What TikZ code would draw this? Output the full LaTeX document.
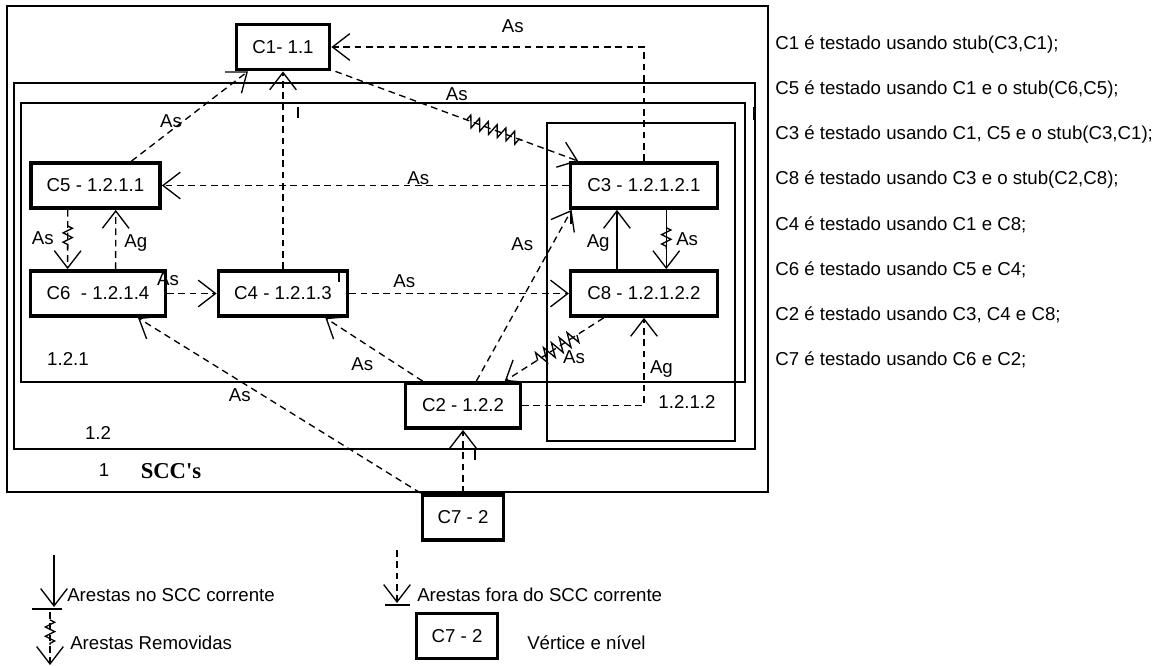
\documentclass[tikz,border=0pt]{standalone}
\usepackage{fontspec}
\setmainfont{Liberation Sans}
\newfontfamily\sccfont{Liberation Serif}
\usetikzlibrary{arrows.meta,positioning,calc,decorations.pathmorphing}

\tikzset{
  vbox/.style={draw, line width=2.6pt, minimum height=34pt, inner sep=0pt},
  frame/.style={line width=1.1pt},
  dentro/.style={line width=1pt, -{Straight Barb[length=13pt,width=20pt]}},
  fora/.style={dentro, dash pattern=on 5pt off 3.5pt},
  lbl/.style={inner sep=1pt},
  removed/.style={line width=1pt, decorate,
    decoration={zigzag, amplitude=#1, segment length=7pt}},
  removed/.default=3.5pt,
  cursor/.style={line width=1.1pt},
  txt/.style={anchor=west, inner sep=0pt}
}

\begin{document}
\begin{tikzpicture}[x=0.75pt, y=-0.75pt, font=\fontsize{14}{16}\selectfont]
  \useasboundingbox (0,0) rectangle (1176,666);

  % SCC frames (levels 1, 1.2, 1.2.1 and 1.2.1.2)
  \draw[frame] (7,6) rectangle (768,492);
  \draw[frame] (14,83) rectangle (755,449);
  \draw[frame] (21,103) rectangle (745,382);
  \draw[frame] (547,123) rectangle (735,441);
  \node[lbl] (n121) at (68,359) {1.2.1};
  \node[lbl] (n12) at (98,433) {1.2};
  \node[lbl] (n1) at (104,470) {1};
  \node[lbl] (n1212) at (687,402) {1.2.1.2};
  \node[lbl, font=\sccfont\bfseries\fontsize{17}{20}\selectfont] (sccs) at (171,471) {SCC's};

  % vertices
  \node[vbox, minimum width=70pt] (c1) at (283,47) {C1- 1.1};
  \node[vbox, minimum width=97pt] (c5) at (95.5,185.5) {C5 - 1.2.1.1};
  \node[vbox, minimum width=101pt] (c6) at (98,293.5) {C6\ \ - 1.2.1.4};
  \node[vbox, minimum width=97pt] (c4) at (283,293.5) {C4 - 1.2.1.3};
  \node[vbox, minimum width=110pt] (c3) at (644,185.5) {C3 - 1.2.1.2.1};
  \node[vbox, minimum width=110pt] (c8) at (644,293.5) {C8 - 1.2.1.2.2};
  \node[vbox, minimum width=86pt] (c2) at (463,405.5) {C2 - 1.2.2};
  \node[vbox, minimum width=61pt] (c7) at (463,517.5) {C7 - 2};

  % edges out of the current SCC
  \draw[fora] (c3.north) |- (c1.east) node[lbl, pos=0.71, above=9pt] {As};
  \draw[fora] ([xshift=3pt]c1.south east) -- ([xshift=7pt]c3.north west)
    coordinate[pos=0.54] (z1a) coordinate[pos=0.77] (z1b)
    node[lbl, pos=0.5, above=10.5pt] {As};
  \draw[fora] (c3.west) -- (c5.east) node[lbl, pos=0.37, above=-1pt] {As};
  \draw[fora] ([xshift=27pt]c5.north) -- ([xshift=10pt]c1.south west)
    node[lbl, pos=0.45, left=0pt] {As};
  \draw[fora] (c4.north) -- (c1.south);
  \draw[fora] ([xshift=29pt]c5.south west) -- ([xshift=29pt]c6.north west)
    coordinate[pos=0.27] (z2a) coordinate[pos=0.66] (z2b)
    node[lbl, pos=0.47, left=9pt] {As};
  \draw[fora] ([xshift=65pt]c6.north west) -- ([xshift=65pt]c5.south west)
    node[lbl, pos=0.44, right=5pt] {Ag};
  \draw[fora] (c6.east) -- (c4.west) node[lbl, pos=0.02, above=4pt] {As};
  \draw[fora] (c4.east) -- (c8.west) node[lbl, pos=0.25, above=3pt] {As};
  \draw[fora] ([xshift=10pt]c2.north) -- ([xshift=2pt]c3.south west)
    node[lbl, pos=0.8, left=13pt] {As};
  \draw[fora] ([xshift=14pt]c2.north west) -- ([xshift=-18pt]c4.south east)
    node[lbl, pos=0.62, below=10pt] {As};
  \draw[fora] ([xshift=26pt]c8.south west) -- ([xshift=-13pt]c2.north east)
    coordinate[pos=0.27] (z3a) coordinate[pos=0.67] (z3b)
    node[lbl, pos=0.3, below=9pt] {As};
  \draw[fora] (c2.east) -| (c8.south) node[lbl, pos=0.71, right=3pt] {Ag};
  \draw[fora] (c7.north west) -- ([xshift=30pt]c6.south)
    node[lbl, pos=0.64, below=4.5pt] {As};
  \draw[fora] (c7.north) -- (c2.south);

  % edges inside the current SCC
  \draw[dentro] ([xshift=73pt]c3.south west) -- ([xshift=73pt]c8.north west)
    coordinate[pos=0.3] (z4a) coordinate[pos=0.66] (z4b)
    node[lbl, pos=0.5, right=6pt] {As};
  \draw[dentro] ([xshift=36pt]c8.north west) -- ([xshift=36pt]c3.south west)
    node[lbl, pos=0.44, left=4pt] {Ag};

  % removed edges
  \draw[removed=4.5pt] (z1a) -- (z1b);
  \draw[removed] (z2a) -- (z2b);
  \draw[removed=5.5pt] (z3a) -- (z3b);
  \draw[removed] (z4a) -- (z4b);

  % stray cursor marks
  \draw[cursor] (298,107) -- (298,118);
  \draw[cursor] (339,270) -- (339,282);
  \draw[cursor] (475,449) -- (475,460);
  \draw[cursor] (571,212) -- (571,224);
  \draw[cursor, line width=2pt] (754,107) -- (754,120);

  % legend
  \coordinate (la) at (54,555);
  \coordinate (lb) at (54,607);
  \draw[dentro] (la) -- (lb);
  \draw[line width=1.5pt] (32,609) -- (62,609);
  \node[txt] (lgdentro) at (67,595) {Arestas no SCC corrente};
  \coordinate (lc) at (50,612);
  \coordinate (ld) at (50,665);
  \draw[fora] (lc) -- (ld) coordinate[pos=0.15] (z5a) coordinate[pos=0.62] (z5b);
  \draw[removed] (z5a) -- (z5b);
  \node[txt] (lgrem) at (70,643) {Arestas Removidas};
  \coordinate (le) at (397,550);
  \coordinate (lf) at (397,603);
  \draw[fora] (le) -- (lf);
  \draw[line width=2pt] (385,605) -- (410,605);
  \node[txt] (lgfora) at (417,595) {Arestas fora do SCC corrente};
  \node[vbox, minimum width=61pt] (lgbox) at (457,636) {C7 - 2};
  \node[txt] (lgvert) at (527,643) {Vértice e nível};

  % test order
  \node[txt] (t1) at (775,45) {C1 é testado usando stub(C3,C1);};
  \node[txt] (t2) at (775,90) {C5 é testado usando C1 e o stub(C6,C5);};
  \node[txt] (t3) at (775,135) {C3 é testado usando C1, C5 e o stub(C3,C1);};
  \node[txt] (t4) at (775,180) {C8 é testado usando C3 e o stub(C2,C8);};
  \node[txt] (t5) at (775,225) {C4 é testado usando C1 e C8;};
  \node[txt] (t6) at (775,270) {C6 é testado usando C5 e C4;};
  \node[txt] (t7) at (775,315) {C2 é testado usando C3, C4 e C8;};
  \node[txt] (t8) at (775,360) {C7 é testado usando C6 e C2;};
\end{tikzpicture}
\end{document}
